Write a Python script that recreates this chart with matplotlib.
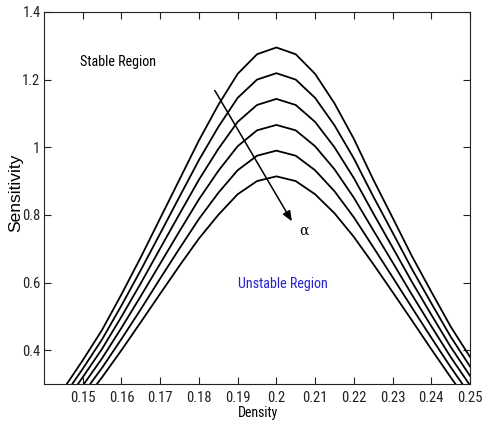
import matplotlib
matplotlib.use("Agg")
import matplotlib.pyplot as plt
from matplotlib import font_manager
from matplotlib.font_manager import FontProperties

# ---- data ----
density = [0.145, 0.150, 0.155, 0.160, 0.165, 0.170, 0.175, 0.180, 0.185, 0.190,
           0.195, 0.200, 0.205, 0.210, 0.215, 0.220, 0.225, 0.230, 0.235, 0.240,
           0.245, 0.250]
curve1 = [0.285, 0.370, 0.460, 0.565, 0.675, 0.790, 0.905, 1.020, 1.125, 1.217,
          1.275, 1.295, 1.275, 1.217, 1.130, 1.025, 0.905, 0.792, 0.678, 0.573,
          0.470, 0.380]
curve2 = [0.262, 0.345, 0.432, 0.532, 0.637, 0.745, 0.854, 0.962, 1.060, 1.146,
          1.200, 1.219, 1.200, 1.146, 1.065, 0.967, 0.855, 0.748, 0.640, 0.539,
          0.440, 0.352]
curve3 = [0.239, 0.320, 0.404, 0.499, 0.598, 0.701, 0.803, 0.904, 0.995, 1.075,
          1.125, 1.143, 1.125, 1.075, 1.000, 0.909, 0.805, 0.704, 0.602, 0.505,
          0.410, 0.324]
curve4 = [0.216, 0.295, 0.376, 0.466, 0.560, 0.656, 0.752, 0.846, 0.930, 1.003,
          1.050, 1.066, 1.050, 1.003, 0.935, 0.851, 0.755, 0.660, 0.564, 0.471,
          0.380, 0.296]
curve5 = [0.193, 0.270, 0.348, 0.433, 0.521, 0.612, 0.701, 0.788, 0.865, 0.932,
          0.975, 0.990, 0.975, 0.932, 0.870, 0.793, 0.705, 0.616, 0.526, 0.437,
          0.350, 0.268]
curve6 = [0.170, 0.245, 0.320, 0.400, 0.483, 0.567, 0.650, 0.730, 0.800, 0.861,
          0.900, 0.914, 0.900, 0.861, 0.805, 0.735, 0.655, 0.572, 0.488, 0.403,
          0.320, 0.240]
curves = [curve1, curve2, curve3, curve4, curve5, curve6]

xticks = [0.15, 0.16, 0.17, 0.18, 0.19, 0.20, 0.21, 0.22, 0.23, 0.24, 0.25]
xticklabels = ["0.15", "0.16", "0.17", "0.18", "0.19", "0.2", "0.21", "0.22", "0.23", "0.24", "0.25"]
yticks = [0.4, 0.6, 0.8, 1.0, 1.2, 1.4]
yticklabels = ["0.4", "0.6", "0.8", "1", "1.2", "1.4"]


def find_narrow_font():
    prefs = ["LiberationSansNarrow-Regular", "RobotoCondensed-Regular",
             "DejaVuSansCondensed.ttf", "OpenSans_Condensed-Regular",
             "NotoSans-Condensed.", "NotoSans-CondensedRegular"]
    files = [f.fname for f in font_manager.fontManager.ttflist]
    for p in prefs:
        for fn in files:
            if p.lower() in fn.lower():
                return fn
    for fn in files:
        low = fn.lower()
        if ("condensed" in low or "narrow" in low) and not any(
                k in low for k in ("bold", "italic", "oblique", "light", "thin", "black", "medium", "semi", "extra")):
            return fn
    return None


narrow = find_narrow_font()
if narrow:
    def fp(size):
        return FontProperties(fname=narrow, size=size)
    TICK, LAB, TXT = 10.5, 10, 10.2
else:
    def fp(size):
        return FontProperties(family="Liberation Sans", size=size)
    TICK, LAB, TXT = 9.0, 9.0, 8.8

fig = plt.figure(figsize=(4.83, 4.34), dpi=100)
ax = fig.add_axes([0.0911, 0.1152, 0.882, 0.8572])

for c in curves:
    ax.plot(density, c, color="black", lw=1.3)

ax.set_xlim(0.14, 0.25)
ax.set_ylim(0.3, 1.4)
ax.set_xticks(xticks)
ax.set_xticklabels(xticklabels, fontproperties=fp(TICK))
ax.set_yticks(yticks)
ax.set_yticklabels(yticklabels, fontproperties=fp(TICK))
ax.tick_params(direction="in", top=True, right=True, length=5, width=0.8, colors="#222222")
ax.tick_params(axis="x", pad=5)
ax.tick_params(axis="y", pad=2.5)
for s in ax.spines.values():
    s.set_linewidth(0.8)
    s.set_color("#222222")

ax.set_xlabel("Density", fontproperties=fp(LAB))
ax.xaxis.set_label_coords(0.503, -0.058)
ax.set_ylabel("Sensitivity", fontproperties=FontProperties(family="Liberation Sans", size=12.5))
ax.yaxis.set_label_coords(-0.05, 0.515)

ax.annotate("", xy=(0.2040, 0.781), xytext=(0.1841, 1.168),
            arrowprops=dict(arrowstyle="-|>,head_length=0.6,head_width=0.25",
                            color="black", lw=1.1, shrinkA=0, shrinkB=0))
ax.text(0.2058, 0.752, "α", fontproperties=FontProperties(family="DejaVu Serif", size=10),
        va="center", ha="left")
ax.text(0.1493, 1.253, "Stable Region", fontproperties=fp(TXT), va="center", ha="left")
ax.text(0.1901, 0.597, "Unstable Region", fontproperties=fp(TXT), va="center", ha="left",
        color="#2323c8")

fig.savefig("out.png", dpi=100)
